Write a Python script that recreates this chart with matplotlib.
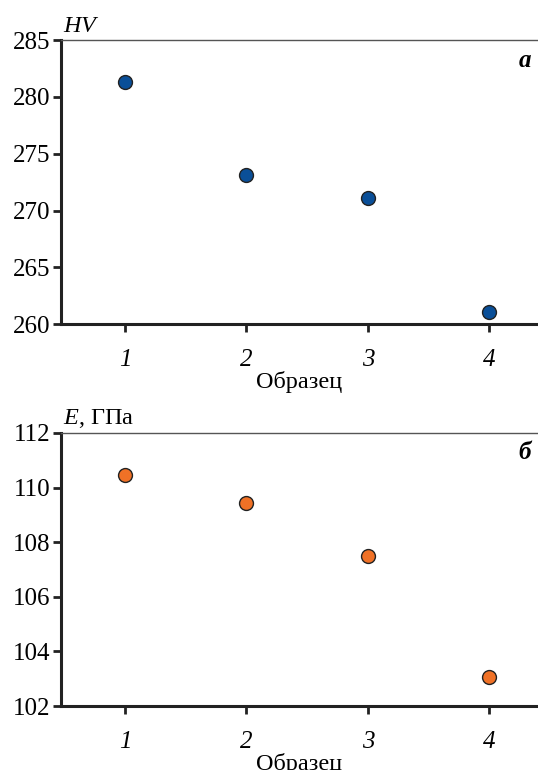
import matplotlib
matplotlib.use('Agg')
import matplotlib.pyplot as plt

plt.rcParams['font.family'] = ['Liberation Serif', 'DejaVu Serif']
plt.rcParams['mathtext.fontset'] = 'custom'
plt.rcParams['mathtext.it'] = 'Liberation Serif:italic'
plt.rcParams['mathtext.rm'] = 'Liberation Serif'

samples = [1, 2, 3, 4]
sample_labels = ['1', '2', '3', '4']
hardness = [281.3, 273.1, 271.1, 261.1]
modulus = [110.45, 109.45, 107.5, 103.05]

hv_ticks = [260, 265, 270, 275, 280, 285]
e_ticks = [102, 104, 106, 108, 110, 112]


def style_axes(ax, yticks, ylabel, panel):
    ax.set_xlim(0.473, 4.40)
    ax.set_ylim(yticks[0], yticks[-1])
    ax.set_yticks(yticks)
    ax.set_xticks(samples)
    ax.set_xticklabels(sample_labels, style='italic')
    ax.spines['right'].set_visible(False)
    ax.spines['top'].set_color('#555555')
    ax.spines['top'].set_linewidth(1.0)
    for side in ('left', 'bottom'):
        ax.spines[side].set_linewidth(2.2)
        ax.spines[side].set_color('#222222')
    ax.tick_params(direction='out', length=6, width=2, color='#222222',
                   labelsize=18, pad=1.5)
    ax.tick_params(axis='x', pad=12)
    ax.set_xlabel('Образец', fontsize=17.5, labelpad=0)
    ax.text(0.005, 1.01, ylabel, transform=ax.transAxes, fontsize=17.5,
            ha='left', va='bottom')
    ax.text(0.985, 0.97, panel, transform=ax.transAxes, fontsize=18,
            fontweight='bold', style='italic', ha='right', va='top')


fig = plt.figure(figsize=(5.38, 7.70), dpi=100)
ax1 = fig.add_axes([0.1134, 0.579, 0.8866, 0.369])
ax2 = fig.add_axes([0.1134, 0.083, 0.8866, 0.3547])

ax1.plot(samples, hardness, 'o', ms=10, color='#0a4f98',
         markeredgecolor='#222222', markeredgewidth=1.0, clip_on=False)
ax2.plot(samples, modulus, 'o', ms=10, color='#f07126',
         markeredgecolor='#222222', markeredgewidth=1.0, clip_on=False)

style_axes(ax1, hv_ticks, r'$HV$', 'а')
style_axes(ax2, e_ticks, r'$E$, ГПа', 'б')

fig.savefig('out.png', dpi=100)
